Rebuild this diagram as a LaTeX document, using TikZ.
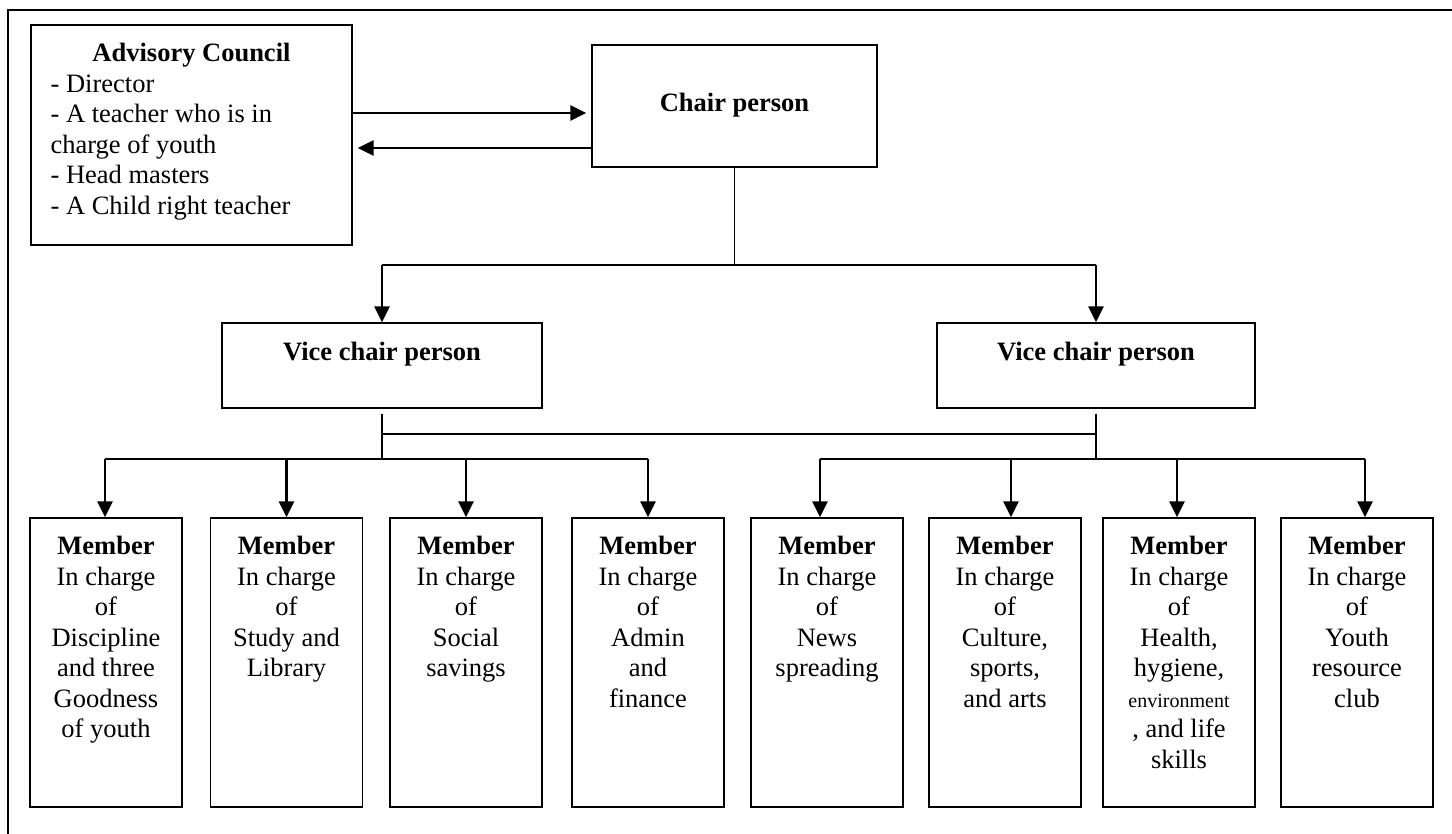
\documentclass[tikz,border=0pt]{standalone}
\usepackage{fontspec}
\setmainfont{Liberation Serif}
\usetikzlibrary{arrows.meta,positioning}

% box contents: width, height, height of the first line, text
\newcommand{\boxtext}[4]{\parbox[c][#2][t]{#1}{\centering\rule{0pt}{#3}#4}}
\newcommand{\member}[1]{\boxtext{76pt}{144.5pt}{18.4pt}{\textbf{Member}\\In charge\\of\\#1}}

\begin{document}
\begin{tikzpicture}[x=0.5pt,y=-0.5pt,
    font=\fontsize{13.25}{15.25}\selectfont,
    box/.style={draw,line width=0.65pt,inner sep=0pt},
    link/.style={line width=0.75pt},
    droplink/.style={line width=1pt},
    arrow/.style={line width=1.4pt,-{Triangle[length=8pt,width=7.5pt]}}]
  \useasboundingbox (0,0) rectangle (1452,834);

  % outer frame, cut off at the right and bottom
  \draw[line width=1.2pt] (8,834) -- (8,10) -- (1452,10);

  \node[box] (adv) at (191.5,135)
    {\parbox[c][110pt][t]{160.5pt}{\centering\rule{0pt}{18.4pt}\textbf{Advisory Council}\par
     \raggedright\leftskip=9.8pt
     - Director\\- A teacher who is in\\charge of youth\\- Head masters\\- A Child right teacher}};
  \node[box] (chair) at (734.5,106) {\boxtext{142.5pt}{61pt}{33.4pt}{\textbf{Chair person}}};
  \node[box] (vl) at (382,365.5) {\boxtext{160pt}{42.5pt}{18.9pt}{\textbf{Vice chair person}}};
  \node[box] (vr) at (1096,365.5) {\boxtext{159pt}{42.5pt}{18.9pt}{\textbf{Vice chair person}}};

  \node[box] (m1) at (106,662.5) {\member{Discipline\\and three\\Goodness\\of youth}};
  \node[box] (m2) at (286.5,662.5) {\member{Study and\\Library}};
  \node[box] (m3) at (466,662.5) {\member{Social\\savings}};
  \node[box] (m4) at (648,662.5) {\member{Admin\\and\\finance}};
  \node[box] (m5) at (827,662.5) {\member{News\\spreading}};
  \node[box] (m6) at (1005,662.5) {\member{Culture,\\sports,\\and arts}};
  \node[box] (m7) at (1179,662.5) {\member{Health,\\hygiene,\\{\fontsize{10}{15.25}\selectfont environment}\\, and life\\skills}};
  \node[box] (m8) at (1357,662.5) {\member{Youth\\resource\\club}};

  % advisory council <-> chair
  \coordinate (c1) at ([yshift=-3.5pt]chair.west);
  \coordinate (c2) at ([yshift=-21pt]chair.west);
  \draw[arrow,shorten >=2.5pt] (c1 -| adv.east) -- (c1);
  \draw[arrow,shorten >=2.5pt] (c2) -- (c2 -| adv.east);

  % chair -> vice chairs
  \coordinate (split) at (734.5,265);
  \draw[link] (chair.south) -- (split);
  \draw[link] (vl.north |- split) -- (vr.north |- split);
  \draw[arrow] (vl.north |- split) -- (vl.north);
  \draw[arrow] (vr.north |- split) -- (vr.north);

  % vice chairs -> members
  \coordinate (midrow) at (0,434);
  \coordinate (droprow) at (0,459);
  \draw[link] ([yshift=-2.5pt]vl.south) -- (vl.south |- droprow);
  \draw[link] ([yshift=-2.5pt]vr.south) -- (vr.south |- droprow);
  \draw[link] (vl.south |- midrow) -- (vr.south |- midrow);
  \foreach \i/\dx in {1/-0.5,2/0,3/0,4/0,5/-3.5,6/3,7/-1,8/4}
    \coordinate (t\i) at ([xshift=\dx pt]m\i.north);
  \draw[droplink] (t1 |- droprow) -- (t4 |- droprow);
  \draw[droplink] (t5 |- droprow) -- (t8 |- droprow);
  \foreach \i in {1,...,8}
    \draw[arrow] (t\i |- droprow) -- (t\i);
\end{tikzpicture}
\end{document}
